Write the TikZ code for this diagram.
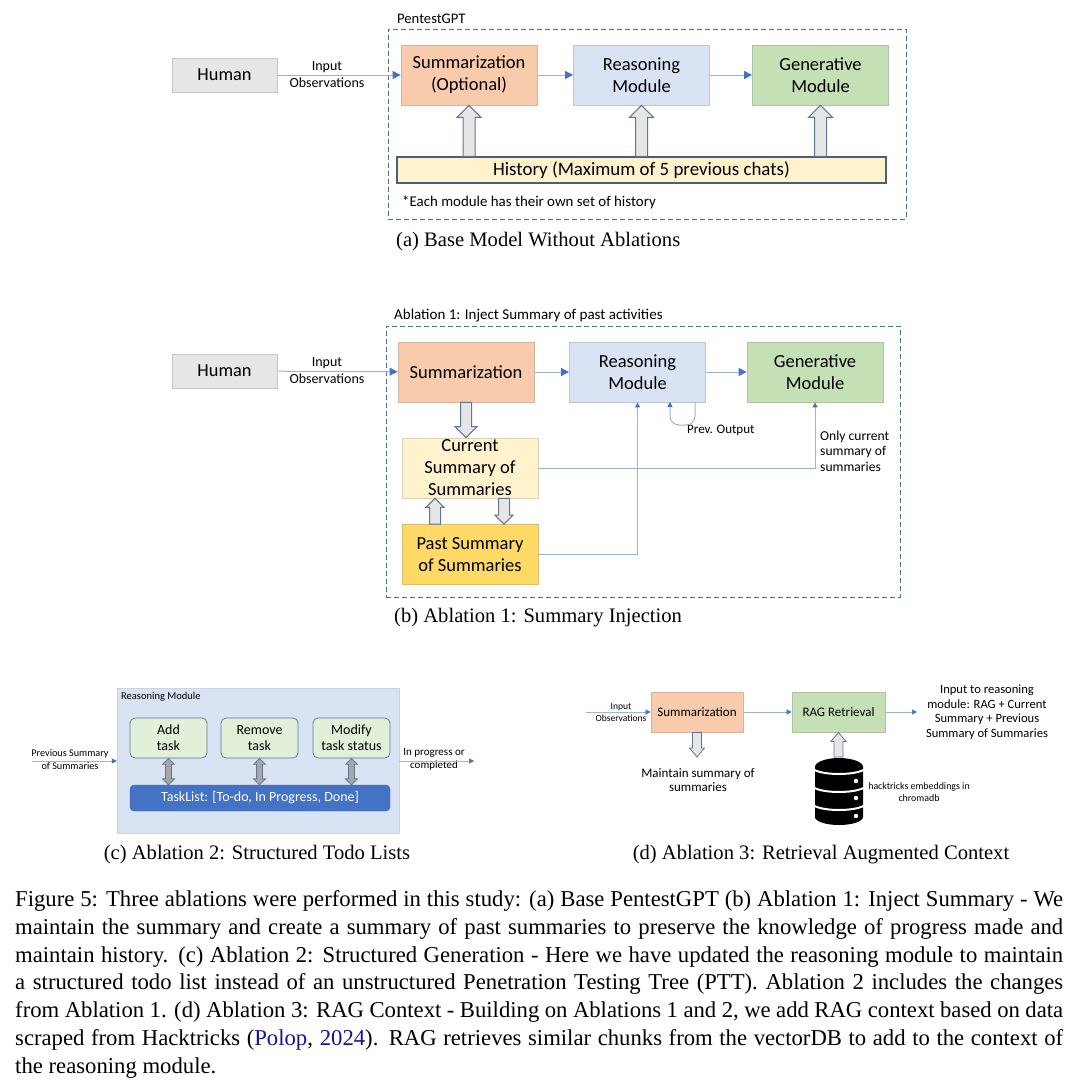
\documentclass[tikz,border=0pt]{standalone}
\usepackage{fontspec}
\usepackage{tikz}
\usetikzlibrary{calc,arrows.meta}
\setmainfont{Liberation Serif}
\newfontfamily\handfont{Carlito}
\definecolor{sumfill}{HTML}{F8CBAD}
\definecolor{reafill}{HTML}{DAE3F3}
\definecolor{genfill}{HTML}{C5E0B4}
\definecolor{curfill}{HTML}{FFF2CC}
\definecolor{pastfill}{HTML}{FFD966}
\definecolor{humfill}{HTML}{E7E6E6}
\definecolor{todofill}{HTML}{E2F0D9}
\definecolor{tipblue}{HTML}{4472C4}
\definecolor{lineblue}{HTML}{9DB4D8}
\definecolor{dashblue}{HTML}{46709A}
\definecolor{hollowedge}{HTML}{5F7596}
\definecolor{citeblue}{HTML}{14148C}
\def\handsz#1#2{\handfont\fontsize{#1}{#2}\selectfont}
\def\tsize#1#2{\fontsize{#1}{#2}\selectfont}
\tikzset{
  modbox/.style={draw=#1!70!gray,fill=#1,line width=0.8pt,inner sep=0pt,align=center,
    minimum width=136pt,minimum height=60pt,font=\handsz{18.5}{22}},
  hand/.style={inner sep=0pt,align=center,font=\handsz{14}{17}},
  note/.style={inner sep=0pt,align=left,anchor=west,font=\handsz{13.6}{15.5}},
  subcap/.style={inner sep=0pt,anchor=base west,font=\tsize{20.6}{22}},
  dashbox/.style={draw=dashblue,line width=1pt,dash pattern=on 5pt off 3pt},
  flow/.style={draw=lineblue,line width=1pt,-{Triangle[length=8pt,width=8pt,color=tipblue]}},
  thin flow/.style={draw=lineblue,line width=0.7pt,-{Triangle[length=5pt,width=5pt,color=tipblue]}},
  todo/.style={draw=hollowedge,fill=todofill,rounded corners=5pt,line width=0.7pt,inner sep=0pt,align=center,
    minimum width=77pt,minimum height=40pt,font=\handsz{14}{16}},
  hollow/.style n args={3}{draw=hollowedge,fill=humfill,line width=1pt,to path={
    -- ($(\tikztostart)!#1!90:(\tikztotarget)$)
    -- ($(\tikztotarget)!#3!(\tikztostart)!#1!90:(\tikztotarget)$)
    -- ($(\tikztotarget)!#3!(\tikztostart)!#2!90:(\tikztotarget)$)
    -- (\tikztotarget)
    -- ($(\tikztotarget)!#3!(\tikztostart)!#2!-90:(\tikztotarget)$)
    -- ($(\tikztotarget)!#3!(\tikztostart)!#1!-90:(\tikztotarget)$)
    -- ($(\tikztostart)!#1!-90:(\tikztotarget)$)
    -- cycle}},
  twohead/.style={draw=hollowedge,fill=gray!70,line width=0.7pt,to path={
    -- ($(\tikztostart)!6pt!(\tikztotarget)!6pt!90:(\tikztotarget)$)
    -- ($(\tikztostart)!6pt!(\tikztotarget)!3pt!90:(\tikztotarget)$)
    -- ($(\tikztotarget)!6pt!(\tikztostart)!3pt!90:(\tikztotarget)$)
    -- ($(\tikztotarget)!6pt!(\tikztostart)!6pt!90:(\tikztotarget)$)
    -- (\tikztotarget)
    -- ($(\tikztotarget)!6pt!(\tikztostart)!6pt!-90:(\tikztotarget)$)
    -- ($(\tikztotarget)!6pt!(\tikztostart)!3pt!-90:(\tikztotarget)$)
    -- ($(\tikztostart)!6pt!(\tikztotarget)!3pt!-90:(\tikztotarget)$)
    -- ($(\tikztostart)!6pt!(\tikztotarget)!6pt!-90:(\tikztotarget)$)
    -- cycle}}
}
\begin{document}
\begin{tikzpicture}[x=1pt,y=-1pt]
  \useasboundingbox (0,0) rectangle (1080,1084);
  % (a) base model
  \node[modbox=humfill,minimum width=105pt,minimum height=34pt,font=\handsz{18.3}{20}] (ahuman) at (224.5,75) {Human};
  \node[dashbox,minimum width=518pt,minimum height=190pt] (aframe) at (647,124) {};
  \node[modbox=sumfill] (asum) at (469,75) {Summarization\\(Optional)};
  \node[modbox=reafill] (area) at (641.5,75) {Reasoning\\Module};
  \node[modbox=genfill] (agen) at (820.5,75) {Generative\\Module};
  \node[draw=hollowedge!80!black,fill=curfill,line width=1.2pt,inner sep=0pt,minimum width=489pt,minimum height=26pt,font=\handsz{18.9}{20}] (ahist) at (641.5,170) {History (Maximum of 5 previous chats)};
  \node[note,font=\handsz{14.6}{16}] (atitle) at (397,19) {PentestGPT};
  \node[hand] (ainput) at (327,75) {Input\\Observations};
  \node[note,font=\handsz{14.9}{16}] (anote) at (402,202) {*Each module has their own set of history};
  \node[subcap] (acap) at (396,246) {(a) Base Model Without Ablations};
  \draw[flow] (ahuman) -- (asum);
  \draw[flow] (asum) -- (area);
  \draw[flow] (area) -- (agen);
  \draw[hollow={6pt}{12pt}{12pt}] (ahist.north -| asum) to (asum.south);
  \draw[hollow={6pt}{12pt}{12pt}] (ahist.north -| area) to (area.south);
  \draw[hollow={6pt}{12pt}{12pt}] (ahist.north -| agen) to (agen.south);
  % (b) ablation 1
  \node[modbox=humfill,minimum width=105pt,minimum height=34pt,font=\handsz{18.3}{20}] (bhuman) at (224.5,371) {Human};
  \node[dashbox,minimum width=514pt,minimum height=271pt] (bframe) at (643,461.5) {};
  \node[modbox=sumfill] (bsum) at (466,372) {Summarization};
  \node[modbox=reafill] (brea) at (637.5,372) {Reasoning\\Module};
  \node[modbox=genfill] (bgen) at (815,372) {Generative\\Module};
  \node[modbox=curfill] (bcur) at (470,468) {Current\\Summary of\\Summaries};
  \node[modbox=pastfill] (bpast) at (470,554.5) {Past Summary\\of Summaries};
  \node[note,font=\handsz{15}{16}] (btitle) at (394,316) {Ablation 1: Inject Summary of past activities};
  \node[hand] (binput) at (327,371) {Input\\Observations};
  \node[note,font=\handsz{13}{15}] (bprev) at (687,430) {Prev. Output};
  \node[note] (bonly) at (820,451) {Only current\\summary of\\summaries};
  \node[subcap] (bcap) at (394,622) {(b) Ablation 1: Summary Injection};
  \coordinate (bloopa) at (695,402);
  \coordinate (bloopb) at (670,402);
  \coordinate (bup) at (435,0);
  \coordinate (bdown) at (504,0);
  \draw[flow] (bhuman) -- (bsum);
  \draw[flow] (bsum) -- (brea);
  \draw[flow] (brea) -- (bgen);
  \draw[thin flow,line width=1pt] (bpast.east) -| (brea.south);
  \draw[thin flow,line width=1pt] (bcur.east) -| (bgen.south);
  \draw[thin flow,line width=1pt,rounded corners=9pt] (bloopa) -- ++(0,23) -| (bloopb);
  \draw[hollow={5.5pt}{11pt}{11pt}] (bsum.south) to (bsum.south |- bcur.north);
  \draw[hollow={5.5pt}{9pt}{9pt}] (bpast.north -| bup) to (bcur.south -| bup);
  \draw[hollow={5.5pt}{9pt}{9pt}] (bcur.south -| bdown) to (bpast.north -| bdown);
  % (c) ablation 2
  \node[fill=reafill,draw=reafill!85!gray,minimum width=282pt,minimum height=145pt,inner sep=0pt] (cmod) at (258,760.5) {};
  \node[note,font=\handsz{10.5}{13}] (ctitle) at (121,697) {Reasoning Module};
  \node[todo] (cadd) at (168.5,738) {Add\\task};
  \node[todo] (crem) at (259.5,738) {Remove\\task};
  \node[todo] (cmodi) at (351.5,738) {Modify\\task status};
  \node[draw=tipblue!90!black,fill=tipblue,rounded corners=4pt,text=white,minimum width=260pt,minimum height=26pt,inner sep=0pt,font=\handsz{14}{16}] (ctask) at (260,798) {TaskList: [To-do, In Progress, Done]};
  \coordinate (cleft) at (32,761);
  \coordinate (cright) at (474,761);
  \node[hand,font=\handsz{10.2}{13}] (cprev) at (70,760) {Previous Summary\\of Summaries};
  \node[hand,font=\handsz{11}{13}] (cprog) at (434,759) {In progress or\\completed};
  \node[subcap,anchor=base] (ccap) at (257,859) {(c) Ablation 2: Structured Todo Lists};
  \draw[thin flow] (cleft) -- (cmod.west |- cleft);
  \draw[thin flow] (cmod.east |- cright) -- (cright);
  \draw[twohead] (ctask.north -| cadd) to (cadd.south);
  \draw[twohead] (ctask.north -| crem) to (crem.south);
  \draw[twohead] (ctask.north -| cmodi) to (cmodi.south);
  % (d) ablation 3
  \node[modbox=sumfill,minimum width=92pt,minimum height=40pt,font=\handsz{13}{16}] (dsum) at (697,712) {Summarization};
  \node[modbox=genfill,minimum width=93pt,minimum height=40pt,font=\handsz{13}{16}] (drag) at (838.5,712) {RAG Retrieval};
  \coordinate (dstart) at (586,712);
  \coordinate (dend) at (917,712);
  \node[hand,font=\handsz{9.5}{12}] (dinput) at (621,712) {Input\\Observations};
  \node[hand,font=\handsz{12.6}{14.5}] (dout) at (987,712) {Input to reasoning\\module: RAG + Current\\Summary + Previous\\Summary of Summaries};
  \node[hand,font=\handsz{13}{14}] (dkeep) at (698,780) {Maintain summary of\\summaries};
  \node[hand,font=\handsz{9.9}{12}] (dhack) at (919,792) {hacktricks embeddings in\\chromadb};
  \node[subcap,anchor=base] (dcap) at (821,859) {(d) Ablation 3: Retrieval Augmented Context};
  \coordinate (dsumout) at (697,757);
  \coordinate (ddbtop) at (838.5,757);
  \draw[thin flow] (dstart) -- (dsum);
  \draw[thin flow] (dsum) -- (drag);
  \draw[thin flow] (drag) -- (dend);
  \draw[hollow={4.5pt}{7.5pt}{9pt},line width=0.8pt] (dsum.south) to (dsumout);
  \draw[hollow={4.5pt}{7.5pt}{9pt},line width=0.8pt] (ddbtop) to (drag.south);
  \fill[black] (815,767) arc[start angle=180,end angle=360,x radius=24,y radius=9]
    -- (863,817) arc[start angle=0,end angle=180,x radius=24,y radius=8] -- cycle;
  \foreach \y in {767,785,803} \draw[white,line width=2pt] (812,\y) arc[start angle=180,end angle=0,x radius=27,y radius=7];
  \foreach \y in {781,798,816} \fill[white] (856,\y) circle (2.2);
  % figure caption
  \node[inner sep=0pt,anchor=north west,text width=1048pt,align=justify,font=\tsize{22.7}{27.75}] (fcap) at (15,890.5) {Figure 5: Three ablations were performed in this study: (a) Base PentestGPT (b) Ablation 1: Inject Summary - We\linebreak
maintain the summary and create a summary of past summaries to preserve the knowledge of progress made and\linebreak
maintain history. (c) Ablation 2: Structured Generation - Here we have updated the reasoning module to maintain\linebreak
a structured todo list instead of an unstructured Penetration Testing Tree (PTT). Ablation 2 includes the changes\linebreak
from Ablation 1. (d) Ablation 3: RAG Context - Building on Ablations 1 and 2, we add RAG context based on data\linebreak
scraped from Hacktricks ({\color{citeblue}Polop}, {\color{citeblue}2024}). RAG retrieves similar chunks from the vectorDB to add to the context of\linebreak
the reasoning module.};
\end{tikzpicture}
\end{document}
